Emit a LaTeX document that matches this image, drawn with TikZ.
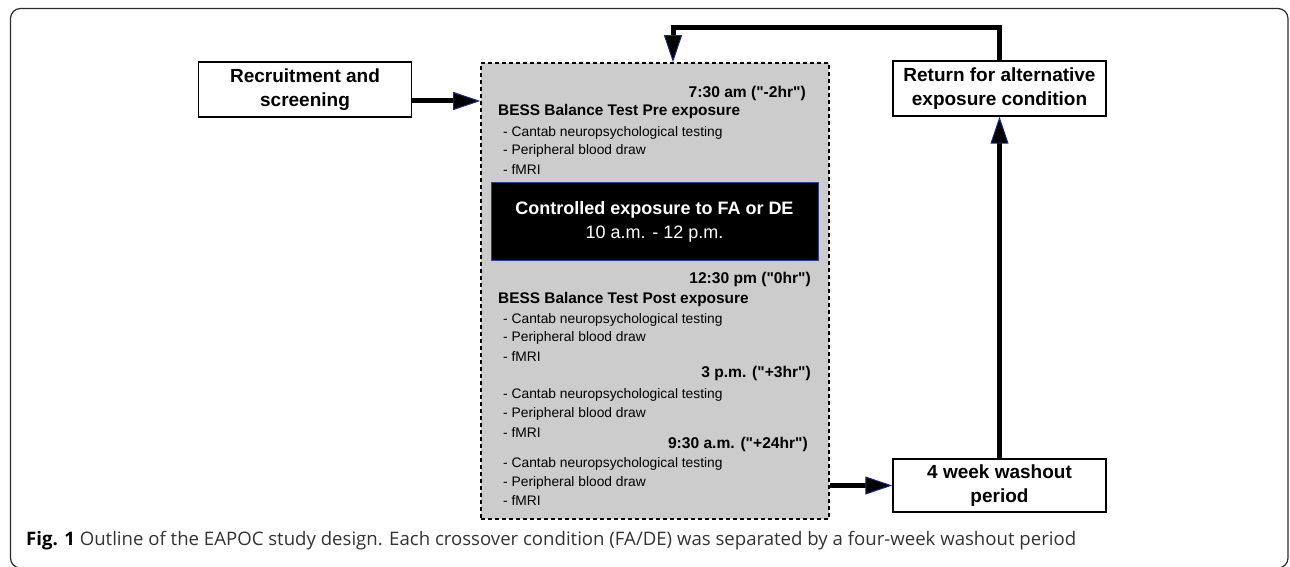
\documentclass[tikz,border=0pt]{standalone}
\usepackage{fontspec}
\setmainfont{Liberation Sans}[Ligatures=TeXOff]
\newfontfamily\capfont{Open Sans}
\usepackage{tikz}
\usetikzlibrary{arrows.meta,positioning}
\definecolor{boxgray}{HTML}{CCCCCC}
\definecolor{tipnavy}{HTML}{1C2A78}
\definecolor{expoblue}{HTML}{2E3F8F}
\definecolor{framegray}{HTML}{2A2A2A}
\definecolor{captext}{HTML}{333333}
\tikzset{
  stage/.style={draw, line width=1.5pt, align=center, fill=white, inner sep=0pt,
    font=\fontsize{19}{24.5}\selectfont\bfseries, minimum width=213pt, minimum height=55pt},
  sched/.style={draw, dashed, dash pattern=on 4pt off 3pt, line width=1.6pt, fill=boxgray,
    minimum width=348pt, minimum height=456pt, inner sep=0pt},
  expo/.style={draw=expoblue, line width=1pt, fill=black, text=white, align=center,
    font=\fontsize{18}{24}\selectfont, minimum width=327pt, minimum height=78pt, inner sep=0pt},
  slot/.style={anchor=base east, inner sep=0pt, font=\fontsize{15.6}{16}\selectfont\bfseries},
  head/.style={anchor=base west, inner sep=0pt, font=\fontsize{15.4}{16}\selectfont\bfseries},
  item/.style={anchor=base west, inner sep=0pt, font=\fontsize{13.8}{16}\selectfont},
  flow/.style={line width=5pt, -{Triangle[length=27pt,width=18pt,color=tipnavy,fill=black,line width=1pt]}},
  caption/.style={anchor=base west, inner sep=0pt, text=captext, font=\capfont\fontsize{18.6}{22}\selectfont}}

\begin{document}
\begin{tikzpicture}[x=1pt,y=-1pt]
  \useasboundingbox (0,0) rectangle (1290,567);
  % outer frame
  \draw[framegray, line width=1.2pt, rounded corners=10pt] (10.5,8.5) rectangle (1288,568);

  \node[stage] (recruit) at (305,89.5) {Recruitment and\\screening};
  \node[sched] (visit) at (655,291) {};
  \node[expo] (expo) at (654.5,221.5) {{\bfseries Controlled exposure to FA or DE}\\10 a.m. - 12 p.m.};
  \node[stage] (return) at (999.5,88.5) {Return for alternative\\exposure condition};
  \node[stage, minimum height=53pt] (washout) at (999.5,485.5) {4 week washout\\period};

  % visit schedule
  \node[slot] (pre) at (806,98) {7:30 am ("-2hr")};
  \node[head] (bpre) at (498,116) {BESS Balance Test Pre exposure};
  \node[slot] (zero) at (811,283) {12:30 pm ("0hr")};
  \node[head] (bpost) at (498,303) {BESS Balance Test Post exposure};
  \node[slot] (three) at (811,377) {3 p.m. ("+3hr")};
  \node[slot] (day) at (808,448) {9:30 a.m. ("+24hr")};
  \foreach \g/\ya/\yb/\yc in {a/136/154/174, b/323/341/361, c/398/417/437, d/467/486/505}{
    \node[item] (cantab\g) at (503,\ya) {- Cantab neuropsychological testing};
    \node[item] (blood\g) at (503,\yb) {- Peripheral blood draw};
    \node[item] (fmri\g) at (503,\yc) {- fMRI};
  }

  % connectors
  \draw[flow] (recruit.east |- 0,101) -- (visit.west |- 0,101);
  \draw[flow] (visit.east |- washout.west) -- (washout.west);
  \draw[flow] (washout.north) -- (return.south);
  \draw[flow] (return.north) -- ++(0,-33) -| ([xshift=18pt]visit.north);

  \node[caption] (cap) at (26,545) {{\color{black}\bfseries Fig. 1} Outline of the EAPOC study design. Each crossover condition (FA/DE) was separated by a four-week washout period};
\end{tikzpicture}
\end{document}
